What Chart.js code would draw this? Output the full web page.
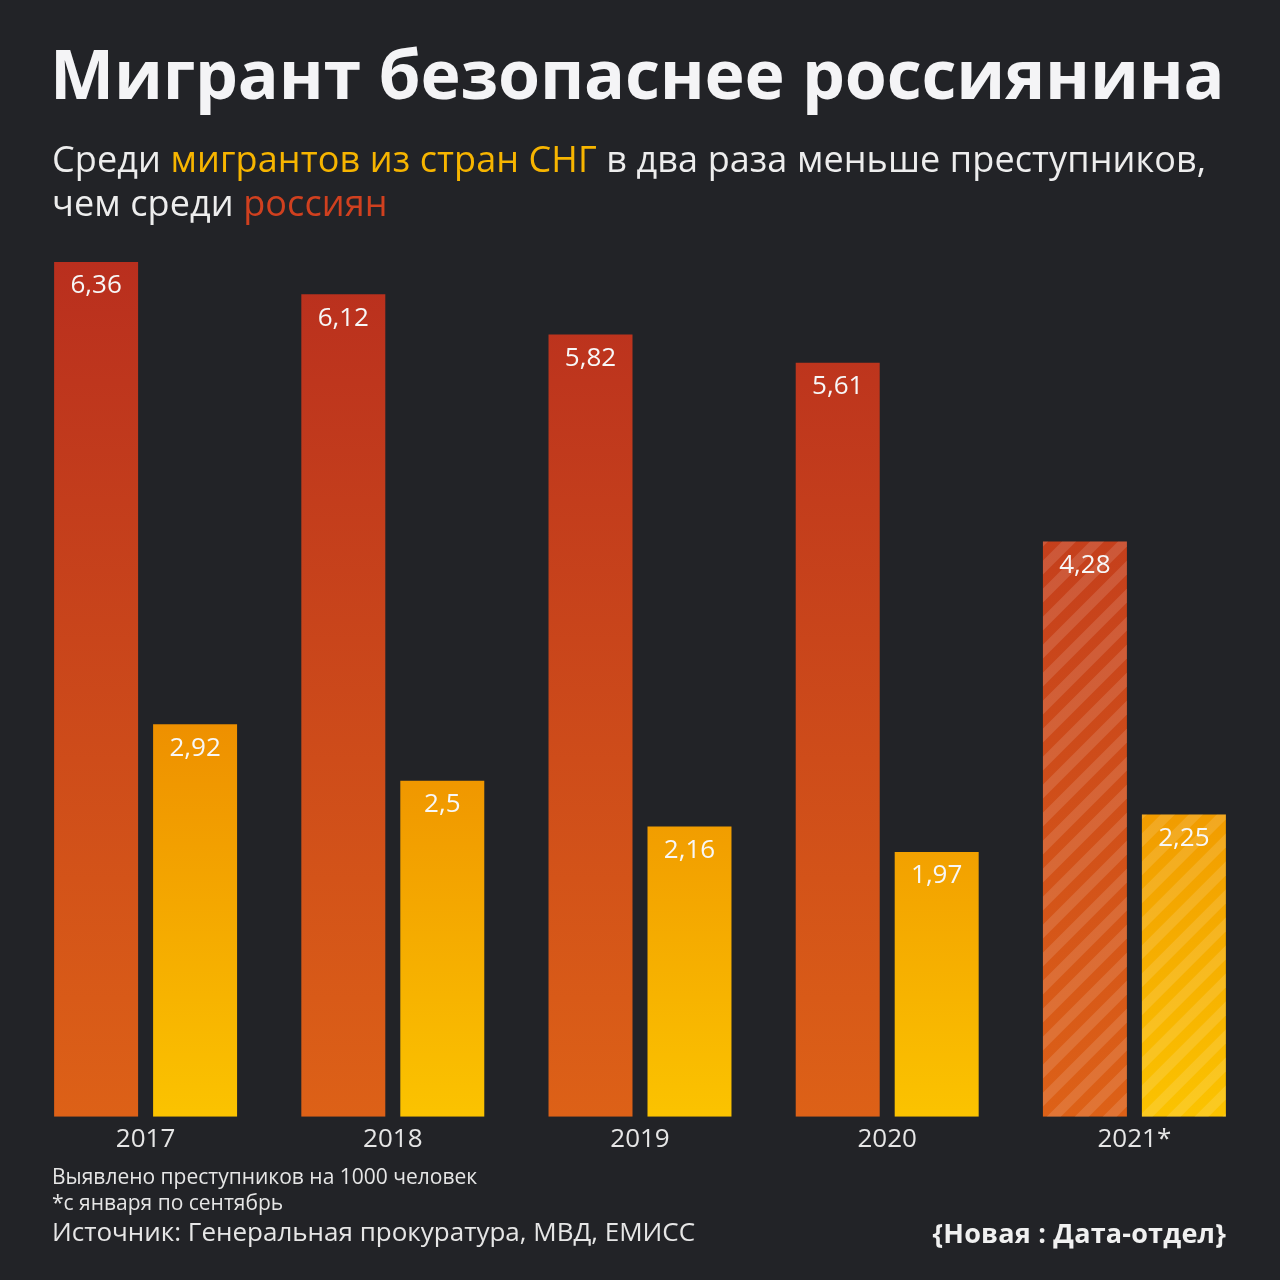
<!DOCTYPE html>
<html>
<head>
<meta charset="utf-8">
<script src="https://cdn.jsdelivr.net/npm/chart.js@4"></script>
<style>
  html, body { margin: 0; padding: 0; background: #222327; }
  #wrap { position: relative; width: 1280px; height: 1280px; background: #222327; overflow: hidden; font-family: "Open Sans", "Noto Sans", sans-serif; color: #f2f2f2; }
  #chart { position: absolute; left: 0; top: 0; }
  .t { position: absolute; white-space: nowrap; line-height: 1; }
  #title { left: 50px; top: 39px; font-size: 68px; font-weight: 700; letter-spacing: -0.2px; color: #f4f4f6; }
  #sub { left: 52px; top: 137px; font-size: 36px; line-height: 44px; color: #ededed; letter-spacing: 0.1px; }
  .yel { color: #f7b500; }
  .red { color: #d0401f; }
  #note1 { left: 52px; top: 1166px; font-size: 21px; color: #e6e6e6; }
  #note2 { left: 52px; top: 1192px; font-size: 21px; color: #e6e6e6; }
  #src { left: 52px; top: 1218px; font-size: 26px; color: #e6e6e6; }
  #logo { right: 54px; top: 1219px; font-size: 27px; font-weight: 700; color: #f0f0f0; letter-spacing: 0.2px; }
</style>
</head>
<body>
<div id="wrap">
  <canvas id="chart" width="1280" height="1280"></canvas>
  <div class="t" id="title">Мигрант безопаснее россиянина</div>
  <div class="t" id="sub">Среди <span class="yel">мигрантов из стран СНГ</span> в два раза меньше преступников,<br>чем среди <span class="red">россиян</span></div>
  <div class="t" id="note1">Выявлено преступников на 1000 человек</div>
  <div class="t" id="note2">*с января по сентябрь</div>
  <div class="t" id="src">Источник: Генеральная прокуратура, МВД, ЕМИСС</div>
  <div class="t" id="logo">{Новая : Дата-отдел}</div>
</div>
<script>
// data
const years = ["2017", "2018", "2019", "2020", "2021*"];
const russians = [6.36, 6.12, 5.82, 5.61, 4.28];
const migrants = [2.92, 2.5, 2.16, 1.97, 2.25];
const partial = [false, false, false, false, true];

// gradient from the tallest bar of a series down to zero
function barGradient(topColor, bottomColor) {
    return function(context) {
        const chart = context.chart;
        if (!chart.chartArea) return topColor;
        const y = chart.scales.y;
        const data = context.dataset.data;
        const top = y.getPixelForValue(Math.max.apply(null, data));
        const bottom = y.getPixelForValue(0);
        const g = chart.ctx.createLinearGradient(0, top, 0, bottom);
        g.addColorStop(0, topColor);
        g.addColorStop(1, bottomColor);
        return g;
    };
}

const barExtras = {
    id: "barExtras",
    afterDatasetsDraw: function(chart) {
        const ctx = chart.ctx;
        chart.data.datasets.forEach(function(ds, di) {
            const meta = chart.getDatasetMeta(di);
            meta.data.forEach(function(bar, i) {
                const p = bar.getProps(["x", "y", "base", "width"], true);
                const left = p.x - p.width / 2;
                const h = p.base - p.y;
                // hatching on incomplete year
                if (partial[i]) {
                    ctx.save();
                    ctx.beginPath();
                    ctx.rect(left, p.y, p.width, h);
                    ctx.clip();
                    ctx.strokeStyle = "rgba(255,255,255,0.13)";
                    ctx.lineWidth = 10;
                    for (let k = -h - 40; k < p.width + 40; k += 28) {
                        ctx.beginPath();
                        ctx.moveTo(left + k, p.base + 10);
                        ctx.lineTo(left + k + h + 20, p.y - 10);
                        ctx.stroke();
                    }
                    ctx.restore();
                }
                // value label
                ctx.save();
                ctx.fillStyle = "#f7f7f7";
                ctx.font = "26px 'Open Sans', 'Noto Sans', sans-serif";
                ctx.textAlign = "center";
                ctx.textBaseline = "middle";
                ctx.fillText(String(ds.data[i]).replace(".", ","), p.x, p.y + 24);
                ctx.restore();
            });
        });
    }
};

new Chart(document.getElementById("chart"), {
    type: "bar",
    data: {
        labels: years,
        datasets: [
            {
                label: "Россияне",
                data: russians,
                backgroundColor: barGradient("#b92f1e", "#dd6117"),
                borderWidth: 0
            },
            {
                label: "Мигранты из стран СНГ",
                data: migrants,
                backgroundColor: barGradient("#ee9000", "#fbc300"),
                borderWidth: 0
            }
        ]
    },
    options: {
        responsive: false,
        animation: false,
        devicePixelRatio: 1,
        categoryPercentage: 0.8008,
        barPercentage: 0.8485,
        layout: { padding: { left: 22, right: 22, top: 176, bottom: 118 } },
        plugins: {
            legend: { display: false },
            tooltip: { enabled: false }
        },
        scales: {
            x: {
                grid: { display: false, drawTicks: false },
                border: { display: false },
                ticks: {
                    color: "#e6e6e6",
                    padding: 7,
                    font: { family: "'Open Sans', 'Noto Sans', sans-serif", size: 26 }
                }
            },
            y: {
                display: false,
                min: 0,
                max: 7
            }
        }
    },
    plugins: [barExtras]
});
</script>
</body>
</html>
